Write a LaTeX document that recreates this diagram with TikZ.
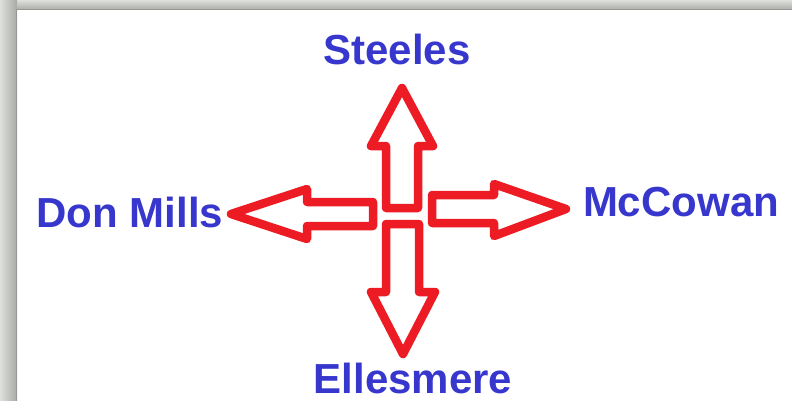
\documentclass[tikz,border=0pt]{standalone}
\usepackage{fontspec}
\setmainfont{Liberation Sans}
\definecolor{arrowred}{RGB}{237,28,36}
\definecolor{labelblue}{RGB}{55,55,205}
\definecolor{frameA}{RGB}{222,224,219}
\definecolor{frameB}{RGB}{168,170,165}
\definecolor{frameC}{RGB}{150,152,147}
\begin{document}
\begin{tikzpicture}[x=1pt,y=-1pt,
  blockarrow/.style={draw=arrowred,line width=8.5pt,line join=round,fill=white},
  place/.style={font=\fontsize{42}{42}\bfseries\selectfont,text=labelblue,inner sep=0pt,anchor=base}]
\useasboundingbox (0,0) rectangle (792,401);
\fill[white] (0,0) rectangle (792,401);
% frame shadow
\shade[top color=frameA,bottom color=frameB] (0,0) rectangle (792,10);
\shade[left color=frameA,right color=frameB] (0,0) rectangle (17,401);
\fill[frameC] (16,9) rectangle (792,10.5);
\fill[frameC] (15.5,9) rectangle (17,401);
% arrows
\draw[blockarrow] (386,208) -- (386,146) -- (371,146) -- (402,88) -- (433,146) -- (418,146) -- (418,208) -- cycle;
\draw[blockarrow] (386,224) -- (386,292) -- (371,292) -- (403,354) -- (435,292) -- (419,292) -- (419,224) -- cycle;
\draw[blockarrow] (373,202) -- (307,202) -- (307,189) -- (231,214) -- (307,239) -- (307,226) -- (373,226) -- cycle;
\draw[blockarrow] (432,195) -- (494,195) -- (494,184) -- (566,209) -- (494,236) -- (494,223) -- (432,223) -- cycle;
% labels
\node[place] (steeles) at (397,65) {Steeles};
\node[place] (donmills) at (130,227) {Don Mills};
\node[place] (mccowan) at (681,216) {McCowan};
\node[place] (ellesmere) at (413,393) {Ellesmere};
\end{tikzpicture}
\end{document}
